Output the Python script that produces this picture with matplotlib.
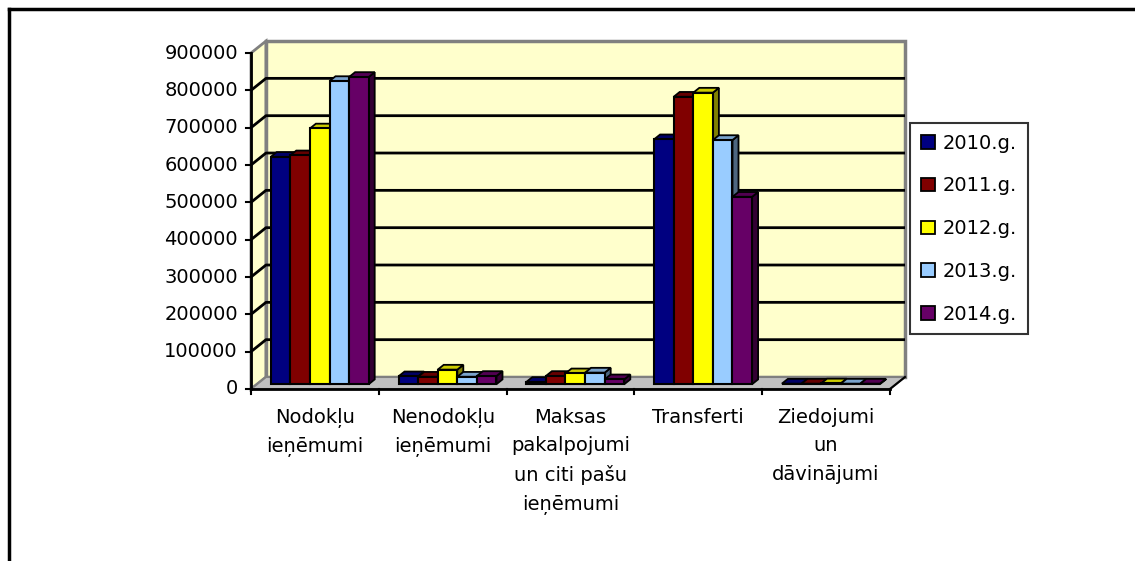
import numpy as np
import matplotlib
matplotlib.use('Agg')
import matplotlib.pyplot as plt
from matplotlib.patches import Polygon, Patch
from matplotlib.lines import Line2D

plt.rcParams['font.family'] = ['DejaVu Sans']

# dati
categories = ['Nodokļu\nieņēmumi', 'Nenodokļu\nieņēmumi',
              'Maksas\npakalpojumi\nun citi pašu\nieņēmumi',
              'Transferti', 'Ziedojumi\nun\ndāvinājumi']
years = ['2010.g.', '2011.g.', '2012.g.', '2013.g.', '2014.g.']
v2010 = [609000, 21000, 6000, 656000, 1500]
v2011 = [613000, 20000, 22000, 770000, 1500]
v2012 = [685000, 39000, 29000, 781000, 2000]
v2013 = [812000, 20000, 31000, 654000, 1500]
v2014 = [823000, 22000, 13000, 502000, 1500]
series = [v2010, v2011, v2012, v2013, v2014]
colors = ['#000080', '#800000', '#FFFF00', '#99CCFF', '#660066']
yticks = list(range(0, 900001, 100000))

W, H = 1135, 561
fig = plt.figure(figsize=(W / 100, H / 100), dpi=100)
ax = fig.add_axes([0, 0, 1, 1])
ax.axis('off')

# skala: pikseli -> dati
X0 = 251.0        # x=0 pikselis
PCAT = 127.8      # pikseli uz kategoriju
Y0 = 389.0        # y=0 pikselis (no augšas)
PPV = 37.33 / 100000
ax.set_xlim(-X0 / PCAT, (W - X0) / PCAT)
ax.set_ylim(-(H - Y0) / PPV, Y0 / PPV)

DX = 15 / PCAT
DY = 12 / PPV
YMAX = 900000
NC = len(categories)
FS = 14

wall = '#FFFFCC'
edge = '#808080'

# sienas un grīda
ax.add_patch(Polygon([(0, 0), (DX, DY), (DX, YMAX + DY), (0, YMAX)],
                     closed=True, fc=wall, ec=edge, lw=2, zorder=1))
ax.add_patch(Polygon([(DX, DY), (NC + DX, DY), (NC + DX, YMAX + DY), (DX, YMAX + DY)],
                     closed=True, fc=wall, ec=edge, lw=2.5, zorder=1))
ax.add_patch(Polygon([(0, 0), (NC, 0), (NC + DX, DY), (DX, DY)],
                     closed=True, fc='#C0C0C0', ec=edge, lw=1.5, zorder=2))

for v in yticks[1:-1]:
    ax.plot([0, DX, NC + DX], [v, v + DY, v + DY], color='black', lw=2, zorder=3,
            solid_capstyle='butt')

# asis
ax.plot([0, 0], [0, YMAX], color='black', lw=2, zorder=6)
ax.plot([0, NC], [0, 0], color='black', lw=2, zorder=6)
ax.plot([NC, NC + DX], [0, DY], color='black', lw=1.5, zorder=6)
tl = 5 / PCAT
for v in yticks:
    ax.plot([-tl, 0], [v, v], color='black', lw=1.5, zorder=6)
    ax.text(-13 / PCAT, v, str(v), ha='right', va='center', fontsize=FS)
for i in range(NC + 1):
    ax.plot([i, i], [0, -5 / PPV], color='black', lw=1.5, zorder=6)
for i, c in enumerate(categories):
    ax.text(i + 0.5, -19 / PPV, c, ha='center', va='top', fontsize=FS,
            linespacing=1.62)

# stabiņi
F0, F1 = 0.4, 0.8
BX0 = (19.7 - F0 * 15) / PCAT
BW = 19.6 / PCAT


def shade(c, k):
    r, g, b = matplotlib.colors.to_rgb(c)
    return (r * k, g * k, b * k)


for i in range(NC):
    for j, vals in enumerate(series):
        v = vals[i]
        xl = i + BX0 + j * BW
        xr = xl + BW
        ax_, ay = F0 * DX, F0 * DY
        bx, by = F1 * DX, F1 * DY
        col = colors[j]
        side = [(xr + ax_, ay), (xr + bx, by), (xr + bx, v + by), (xr + ax_, v + ay)]
        top = [(xl + ax_, v + ay), (xr + ax_, v + ay), (xr + bx, v + by), (xl + bx, v + by)]
        front = [(xl + ax_, ay), (xr + ax_, ay), (xr + ax_, v + ay), (xl + ax_, v + ay)]
        ax.add_patch(Polygon(side, closed=True, fc=shade(col, 0.5), ec='black', lw=1.3, zorder=4))
        ax.add_patch(Polygon(top, closed=True, fc=shade(col, 0.8), ec='black', lw=1.3, zorder=4))
        ax.add_patch(Polygon(front, closed=True, fc=col, ec='black', lw=1.5, zorder=4))

# leģenda
handles = [Patch(facecolor=c, edgecolor='black', lw=1.3) for c in colors]
leg = fig.legend(handles, years, loc='upper left',
                 bbox_to_anchor=(910 / W, 1 - 123 / H),
                 fontsize=FS, frameon=True, fancybox=False,
                 handlelength=0.75, handleheight=0.7, handletextpad=0.4,
                 labelspacing=1.22, borderpad=0.55, borderaxespad=0)
leg.get_frame().set_edgecolor('black')
leg.get_frame().set_linewidth(1.5)

# ārējais rāmis
fig.add_artist(Line2D([9 / W, 9 / W], [0, 1 - 9 / H], color='black', lw=2.5))
fig.add_artist(Line2D([9 / W, 1], [1 - 9 / H, 1 - 9 / H], color='black', lw=2.5))

fig.savefig('out.png', dpi=100)
